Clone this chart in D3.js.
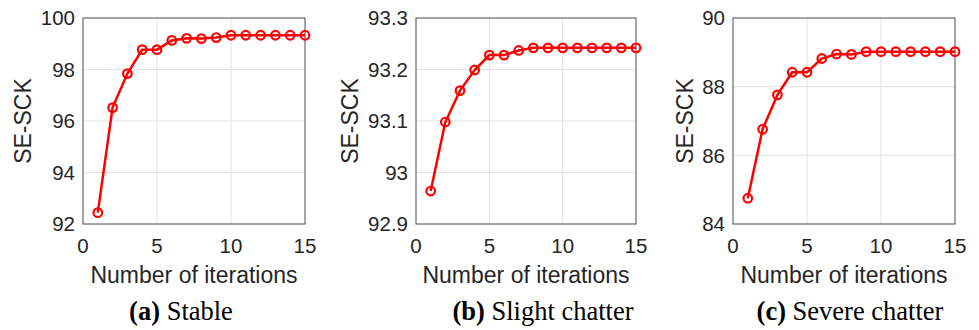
<!DOCTYPE html>
<html>
<head>
<meta charset="utf-8">
<script src="https://cdn.jsdelivr.net/npm/d3@7"></script>
<style>
    body { margin: 0; background: #fff; }
    svg { display: block; }
    .tick-label { font-family: Arial, "Liberation Sans", sans-serif; font-size: 20.5px; fill: #262626; }
    .axis-title { font-family: Arial, "Liberation Sans", sans-serif; font-size: 23px; fill: #262626; }
    .caption { font-family: "Times New Roman", "Liberation Serif", serif; font-size: 26.5px; fill: #000; }
</style>
</head>
<body>
<div id="chart"></div>
<script>
// values
let iterations = [1, 2, 3, 4, 5, 6, 7, 8, 9, 10, 11, 12, 13, 14, 15];
let stableValues = [92.44, 96.52, 97.84, 98.77, 98.77, 99.13, 99.21, 99.20, 99.24, 99.33, 99.33, 99.33, 99.33, 99.33, 99.33];
let slightValues = [92.964, 93.098, 93.159, 93.199, 93.228, 93.228, 93.237, 93.242, 93.242, 93.242, 93.242, 93.242, 93.242, 93.242, 93.242];
let severeValues = [84.75, 86.76, 87.76, 88.42, 88.42, 88.82, 88.95, 88.94, 89.02, 89.02, 89.02, 89.02, 89.02, 89.02, 89.02];

let xTicks = [0, 5, 10, 15];
let stableTicks = [92, 94, 96, 98, 100];
let slightTicks = [92.9, 93, 93.1, 93.2, 93.3];
let severeTicks = [84, 86, 88, 90];

let captionLetters = ["(a)", "(b)", "(c)"];
let captionNames = ["Stable", "Slight chatter", "Severe chatter"];
let yTitle = "SE-SCK";
let xTitle = "Number of iterations";

// layout for each panel (pixels)
let panels = [
    {left: 83, right: 305, values: stableValues, ticks: stableTicks, titleX: 31, captionX: 181},
    {left: 416, right: 636, values: slightValues, ticks: slightTicks, titleX: 358, captionX: 543},
    {left: 733, right: 955, values: severeValues, ticks: severeTicks, titleX: 693, captionX: 850}
];
let plotTop = 18, plotBottom = 224;

let svg = d3.select("#chart").append("svg")
    .attr("width", 979)
    .attr("height", 330);

panels.forEach((p, i) => {
    let x = d3.scaleLinear().domain([0, 15]).range([p.left, p.right]);
    let y = d3.scaleLinear().domain(d3.extent(p.ticks)).range([plotBottom, plotTop]);
    let g = svg.append("g");

    // grid
    g.selectAll(".gx").data(xTicks.slice(1, -1)).enter().append("line")
        .attr("x1", d => x(d)).attr("x2", d => x(d))
        .attr("y1", plotTop).attr("y2", plotBottom)
        .attr("stroke", "#e3e3e3").attr("stroke-width", 1);
    g.selectAll(".gy").data(p.ticks.slice(1, -1)).enter().append("line")
        .attr("x1", p.left).attr("x2", p.right)
        .attr("y1", d => y(d)).attr("y2", d => y(d))
        .attr("stroke", "#e3e3e3").attr("stroke-width", 1);

    // box
    g.append("rect")
        .attr("x", p.left).attr("y", plotTop)
        .attr("width", p.right - p.left).attr("height", plotBottom - plotTop)
        .attr("fill", "none").attr("stroke", "#4a4a4a").attr("stroke-width", 1);

    // tick labels
    g.selectAll(".xl").data(xTicks).enter().append("text")
        .attr("class", "tick-label")
        .attr("x", d => x(d)).attr("y", 253)
        .attr("text-anchor", "middle")
        .text(d => d);
    g.selectAll(".yl").data(p.ticks).enter().append("text")
        .attr("class", "tick-label")
        .attr("x", p.left - 8).attr("y", d => y(d))
        .attr("dy", "0.36em")
        .attr("text-anchor", "end")
        .text(d => +d.toFixed(1));

    // axis titles
    g.append("text")
        .attr("class", "axis-title")
        .attr("transform", `translate(${p.titleX}, ${(plotTop + plotBottom) / 2}) rotate(-90)`)
        .attr("text-anchor", "middle")
        .text(yTitle);
    g.append("text")
        .attr("class", "axis-title")
        .attr("x", (p.left + p.right) / 2).attr("y", 283)
        .attr("text-anchor", "middle")
        .text(xTitle);

    // line + markers
    let line = d3.line()
        .x((d, j) => x(iterations[j]))
        .y(d => y(d));
    g.append("path")
        .datum(p.values)
        .attr("d", line)
        .attr("fill", "none")
        .attr("stroke", "#ff0000")
        .attr("stroke-width", 2.5);
    g.selectAll(".pt").data(p.values).enter().append("circle")
        .attr("cx", (d, j) => x(iterations[j]))
        .attr("cy", d => y(d))
        .attr("r", 4.3)
        .attr("fill", "none")
        .attr("stroke", "#ff0000")
        .attr("stroke-width", 2.2);

    // caption
    let cap = g.append("text")
        .attr("class", "caption")
        .attr("x", p.captionX).attr("y", 320)
        .attr("text-anchor", "middle");
    cap.append("tspan").attr("font-weight", "bold").text(captionLetters[i]);
    cap.append("tspan").text(" " + captionNames[i]);
});
</script>
</body>
</html>
